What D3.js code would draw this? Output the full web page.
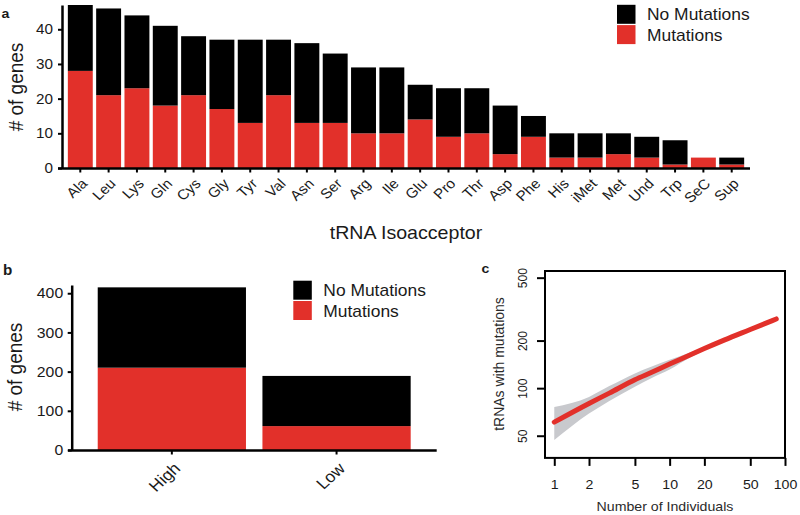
<!DOCTYPE html>
<html><head><meta charset="utf-8">
<script src="https://cdn.jsdelivr.net/npm/d3@7"></script>
<style>
body{margin:0;background:#fff}
svg{display:block}
text{font-family:"Liberation Sans",Arial,Helvetica,sans-serif;fill:#1a1a1a}
</style>
</head><body>
<svg id="chart" width="800" height="515"></svg>
<script>
// ---------- data ----------
const seriesLabels = ["No Mutations", "Mutations"];

const aCategories = ["Ala","Leu","Lys","Gln","Cys","Gly","Tyr","Val","Asn","Ser","Arg","Ile",
                     "Glu","Pro","Thr","Asp","Phe","His","iMet","Met","Und","Trp","SeC","Sup"];
const aMutations   = [28,21,23,18,21,17,13,21,13,13,10,10,14,9,10,4,9,3,3,4,3,1,3,1];
const aNoMutations = [19,25,21,23,17,20,24,16,23,20,19,19,10,14,13,14,6,7,7,6,6,7,0,2];
const aYTicks = [0,10,20,30,40];

const bCategories = ["High","Low"];
const bMutations   = [210, 61];
const bNoMutations = [205, 128];
const bYTicks = [0,100,200,300,400];

const cIndividuals = [1,2,3,5,7,10,15,20,30,50,84];
const cMutated     = [61,80,93,113,126,142,162,178,202,235,274];
const cLower       = [47,69,83,102,116,131,156,174,200,232,272];
const cUpper       = [76,88,103,124,137,151,168,182,205,237,276];
const cXTicks = [1,2,5,10,20,50,100];
const cYTicks = [50,100,200,500];

// ---------- style ----------
const RED = "#e2302a", BLACK = "#000000";
const SX = 1.09; // horizontal text stretch of the reference
const svg = d3.select("#chart");

function stretchText(sel, x, y, rot) {
  sel.attr("x", 0).attr("y", 0)
     .attr("transform", `translate(${x},${y}) scale(${SX},1)` + (rot ? ` rotate(${rot})` : ""));
}
function label(g, txt, x, y, size, opts = {}) {
  const t = g.append("text").text(txt).style("font-size", size + "px")
    .attr("text-anchor", opts.anchor || "start");
  if (opts.bold) t.style("font-weight", "bold");
  stretchText(t, x, y, opts.rot);
  return t;
}
function legend(g, x, y) {
  const colors = [BLACK, RED];
  seriesLabels.forEach((s, i) => {
    g.append("rect").attr("x", x).attr("y", y + i * 20.3).attr("width", 18.5).attr("height", 19)
      .attr("fill", colors[i]);
    label(g, s, x + 30, y + 15.5 + i * 20.3, 16);
  });
}
function styleAxis(g, w) {
  g.selectAll("path.domain").attr("stroke", "#000").attr("stroke-width", w);
  g.selectAll(".tick line").attr("stroke", "#000").attr("stroke-width", 2);
}

// ---------- panel a ----------
(function () {
  const g = svg.append("g");
  const x = d3.scaleBand().domain(aCategories).range([62, 750]).paddingInner(0.12).paddingOuter(0.206);
  const y = d3.scaleLinear().domain([0, 47]).range([168, 5]);
  const rows = aCategories.map((c, i) => ({cat: c, mut: aMutations[i], no: aNoMutations[i]}));
  const stack = d3.stack().keys(["mut", "no"])(rows);
  const col = {mut: RED, no: BLACK};
  stack.forEach(layer => {
    g.append("g").selectAll("rect").data(layer).join("rect")
      .attr("x", d => x(d.data.cat)).attr("width", x.bandwidth())
      .attr("y", d => y(d[1])).attr("height", d => y(d[0]) - y(d[1]))
      .attr("fill", col[layer.key]);
  });
  const ya = g.append("g").attr("transform", "translate(62,0)")
    .call(d3.axisLeft(y).tickValues(aYTicks).tickSize(4).tickPadding(5).tickSizeOuter(0));
  ya.selectAll(".tick text").style("font-size", "14px").attr("fill", "#1a1a1a")
    .each(function () { stretchText(d3.select(this), -9, 0); });
  styleAxis(ya, 2.5);
  const xa = g.append("g").attr("transform", "translate(0,168.5)")
    .call(d3.axisBottom(x).tickSize(4).tickSizeOuter(0));
  xa.select("path.domain").attr("d", "M58,0H750");
  xa.selectAll(".tick text").style("font-size", "14px").attr("fill", "#1a1a1a")
    .attr("text-anchor", "end").attr("dy", null)
    .each(function () { stretchText(d3.select(this), 8, 16, -45); });
  styleAxis(xa, 2.5);
  label(g, "# of genes", 23, 87, 19, {anchor: "middle", rot: -90});
  label(g, "tRNA Isoacceptor", 406, 238.5, 18, {anchor: "middle"});
  label(g, "a", 1.5, 18.3, 13, {bold: true});
  legend(g, 617, 4.8);
})();

// ---------- panel b ----------
(function () {
  const g = svg.append("g");
  const x = d3.scaleBand().domain(bCategories).range([71.7, 436.7]).paddingInner(0.1).paddingOuter(0.158);
  const y = d3.scaleLinear().domain([0, 421]).range([450, 285]);
  const rows = bCategories.map((c, i) => ({cat: c, mut: bMutations[i], no: bNoMutations[i]}));
  const stack = d3.stack().keys(["mut", "no"])(rows);
  const col = {mut: RED, no: BLACK};
  stack.forEach(layer => {
    g.append("g").selectAll("rect").data(layer).join("rect")
      .attr("x", d => x(d.data.cat)).attr("width", x.bandwidth())
      .attr("y", d => y(d[1])).attr("height", d => y(d[0]) - y(d[1]))
      .attr("fill", col[layer.key]);
  });
  const ya = g.append("g").attr("transform", "translate(71.7,0)")
    .call(d3.axisLeft(y).tickValues(bYTicks).tickSize(4).tickPadding(5).tickSizeOuter(0));
  ya.selectAll(".tick text").style("font-size", "14.5px").attr("fill", "#1a1a1a")
    .each(function () { stretchText(d3.select(this), -8.5, 0); });
  styleAxis(ya, 2.5);
  const xa = g.append("g").attr("transform", "translate(0,450.5)")
    .call(d3.axisBottom(x).tickSize(4).tickSizeOuter(0));
  xa.select("path.domain").attr("d", "M68,0H436.7");
  xa.selectAll(".tick text").style("font-size", "16px").attr("fill", "#1a1a1a")
    .attr("text-anchor", "end").attr("dy", null)
    .each(function () { stretchText(d3.select(this), 9.5, 19, -45); });
  styleAxis(xa, 2.5);
  label(g, "# of genes", 21.5, 367, 19, {anchor: "middle", rot: -90});
  label(g, "b", 3, 275, 14, {bold: true});
  legend(g, 293.3, 280.7);
})();

// ---------- panel c ----------
(function () {
  const g = svg.append("g");
  const x = d3.scaleLog().domain([0.831, 100]).range([545, 785]);
  const y = d3.scaleLog().domain([36.2, 551]).range([457.9, 271]);
  const pts = cIndividuals.map((n, i) => ({n, v: cMutated[i], lo: cLower[i], hi: cUpper[i]}));
  g.append("clipPath").attr("id", "cclip").append("rect")
    .attr("x", x.range()[0]).attr("y", y.range()[1])
    .attr("width", x.range()[1] - x.range()[0]).attr("height", y.range()[0] - y.range()[1]);
  const inner = g.append("g").attr("clip-path", "url(#cclip)");
  inner.append("path").datum(pts)
    .attr("d", d3.area().x(d => x(d.n)).y0(d => y(d.lo)).y1(d => y(d.hi)).curve(d3.curveMonotoneX))
    .attr("fill", "#c8c9cd");
  inner.append("path").datum(pts)
    .attr("d", d3.line().x(d => x(d.n)).y(d => y(d.v)).curve(d3.curveMonotoneX))
    .attr("fill", "none").attr("stroke", RED).attr("stroke-width", 5).attr("stroke-linecap", "round");
  g.append("rect").attr("x", x.range()[0]).attr("y", y.range()[1])
    .attr("width", x.range()[1] - x.range()[0]).attr("height", y.range()[0] - y.range()[1])
    .attr("fill", "none").attr("stroke", "#000").attr("stroke-width", 2);
  const xa = g.append("g").attr("transform", `translate(0,${y.range()[0]})`)
    .call(d3.axisBottom(x).tickValues(cXTicks).tickFormat(d3.format("d")).tickSize(8).tickSizeOuter(0));
  xa.select("path.domain").remove();
  xa.selectAll(".tick line").attr("stroke", "#000").attr("stroke-width", 2);
  xa.selectAll(".tick text").style("font-size", "13px").attr("fill", "#2a2a2a")
    .attr("text-anchor", "middle").attr("dy", null)
    .each(function () { stretchText(d3.select(this), 0, 31); });
  const ya = g.append("g").attr("transform", `translate(${x.range()[0]},0)`)
    .call(d3.axisLeft(y).tickValues(cYTicks).tickFormat(d3.format("d")).tickSize(8).tickSizeOuter(0));
  ya.select("path.domain").remove();
  ya.selectAll(".tick line").attr("stroke", "#000").attr("stroke-width", 2);
  ya.selectAll(".tick text").style("font-size", "12px").attr("fill", "#2a2a2a")
    .attr("text-anchor", "middle").attr("dy", null)
    .each(function () { stretchText(d3.select(this), -18.3, 0, -90); });
  label(g, "Number of Individuals", 665, 511, 13, {anchor: "middle"}).style("fill", "#2a2a2a");
  label(g, "tRNAs with mutations", 504, 364, 14, {anchor: "middle", rot: -90}).style("fill", "#2a2a2a");
  label(g, "c", 481.5, 273.3, 13, {bold: true});
})();
</script>
</body></html>
